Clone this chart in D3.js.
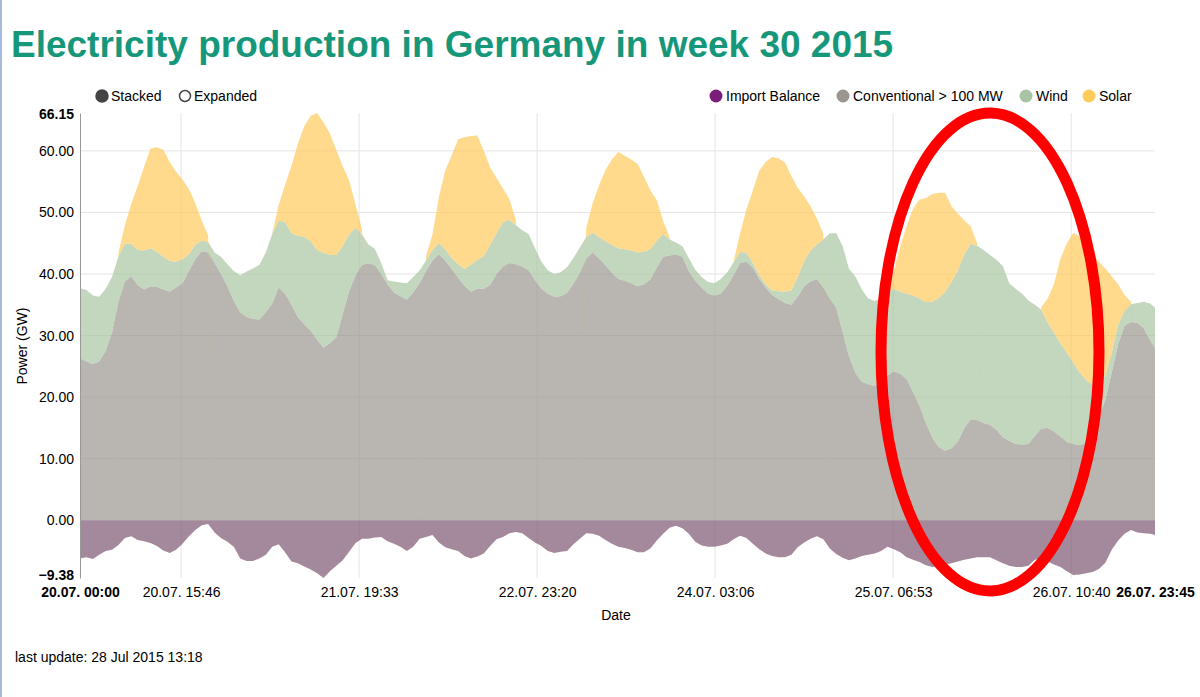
<!DOCTYPE html>
<html>
<head>
<meta charset="utf-8">
<script src="https://cdn.jsdelivr.net/npm/d3@7"></script>
<style>
  html, body { margin: 0; padding: 0; background: #fff; }
  svg { display: block; font-family: "Liberation Sans", Arial, sans-serif; }
</style>
</head>
<body>
<svg id="chart" width="1200" height="697"></svg>
<script>
// ---------- DATA (hourly, hours since 20.07.2015 00:00) ----------
const hours = d3.range(0, 168).concat([167.75]);

const conventional = [
  26.3,25.8,25.4,25.8,27.5,30.5,35.5,38.8,39.6,38.2,
  37.5,38.0,37.9,37.5,37.1,37.8,38.5,40.5,42.4,43.7,
  43.5,41.8,40.0,38.0,35.6,33.8,33.0,32.7,32.6,33.8,
  35.2,37.8,36.8,35.0,33.0,31.8,30.8,29.3,28.0,28.8,
  29.7,33.5,37.2,39.8,41.5,41.7,41.5,40.0,38.3,37.0,
  36.4,35.8,37.0,38.5,40.5,42.2,43.2,42.2,40.8,39.4,
  38.1,37.1,37.6,37.6,38.2,40.0,41.2,41.8,41.6,41.2,
  40.6,39.0,37.6,36.8,36.3,36.4,36.9,38.4,40.2,42.5,
  43.5,42.5,41.4,40.2,39.2,38.9,38.5,38.0,38.3,39.1,
  41.0,42.8,43.0,43.2,42.8,40.5,38.9,37.8,36.8,36.5,
  36.8,38.1,39.8,41.8,42.0,41.0,39.2,37.8,36.6,35.9,
  35.3,35.0,36.3,38.0,38.8,39.2,37.8,36.0,34.5,30.6,
  26.6,23.9,22.5,22.1,21.8,22.6,23.5,24.2,23.8,22.9,
  20.8,18.6,15.8,13.4,11.9,11.3,11.7,12.8,15.0,16.4,
  16.3,15.8,15.5,14.7,13.5,12.9,12.4,12.3,12.4,13.7,
  14.9,15.0,14.4,13.6,12.7,12.4,12.2,12.5,14.0,17.0,
  19.5,24.0,28.6,31.6,32.2,32.1,31.2,29.2,28.0
];

const wind = [
  11.4,11.6,11.1,10.5,10.1,9.0,7.4,6.1,5.3,5.7,
  6.3,6.2,5.7,5.3,5.0,4.2,3.9,2.7,2.4,1.7,
  1.7,1.7,2.8,3.6,4.9,6.0,7.4,8.2,8.9,9.7,
  11.3,10.9,11.6,11.6,13.2,14.2,14.5,14.6,15.4,14.3,
  13.4,11.0,9.2,7.7,4.9,3.1,2.6,1.8,0.7,1.8,
  2.2,2.7,2.5,2.1,1.7,1.7,1.8,1.8,1.8,2.2,
  2.7,4.4,4.7,5.3,6.5,6.6,7.2,7.0,6.3,5.9,
  5.9,5.2,4.4,3.8,3.7,3.9,4.2,4.2,4.1,3.5,
  3.2,3.5,3.9,4.5,5.0,5.1,5.3,5.5,5.3,4.9,
  4.4,3.7,2.6,1.9,1.7,2.1,1.8,1.7,1.9,2.0,
  2.4,2.2,2.1,1.8,1.4,0.8,0.6,0.5,0.7,1.3,
  1.8,2.3,3.2,4.1,5.0,5.6,7.8,10.6,12.1,14.0,
  14.2,15.7,15.0,13.9,13.8,13.4,13.5,13.4,13.3,13.9,
  15.7,17.4,19.6,22.1,24.2,25.8,27.0,27.8,28.2,28.5,
  28.3,28.1,27.6,27.6,27.8,25.6,25.2,24.5,23.3,21.3,
  19.3,17.1,16.0,15.1,14.5,13.2,11.8,10.3,8.0,5.3,
  4.0,3.2,3.2,2.4,2.9,3.2,4.3,6.0,6.5
];

const solar = [
  0,0,0,0,0,0,0.6,3.0,6.5,10.4,
  13.6,16.2,17.0,17.4,16.1,14.6,12.9,10.6,6.7,3.3,
  1.0,0,0,0,0,0,0,0,0,0,
  0.1,2.5,6.1,11.0,15.0,18.0,20.4,22.25,21.2,19.7,
  17.0,13.0,8.8,3.8,0.9,0,0,0,0,0,
  0,0,0,0,0.7,2.5,7.5,12.8,16.7,20.3,
  21.4,20.9,20.2,17.1,12.6,9.0,5.5,3.4,0.9,0,
  0,0,0,0,0,0,0,0,0,1.5,
  4.8,8.4,11.6,13.9,15.6,15.2,14.8,14.4,12.2,9.6,
  6.6,2.1,0.4,0,0,0,0,0,0,0,
  0,0,0.2,3.0,7.1,11.8,17.0,19.9,21.7,21.6,
  21.0,18.6,14.5,10.5,7.2,4.2,0.9,0,0,0,
  0,0,0,0,0,0,0.5,2.9,7.4,11.0,
  14.1,16.1,16.9,17.5,17.1,16.1,12.3,9.2,5.5,2.8,
  0.4,0,0,0,0,0,0,0,0,0,
  0.4,3.9,8.0,13.8,17.8,21.1,22.1,21.6,21.3,19.7,
  17.4,12.4,6.5,2.6,0.4,0,0,0,0
];

const importBalance = [
  -6.2,-6.0,-6.3,-5.6,-5.0,-4.8,-4.0,-2.9,-2.6,-3.2,
  -3.4,-3.7,-4.2,-4.9,-5.3,-4.8,-3.8,-2.6,-1.6,-0.8,
  -0.6,-2.0,-2.9,-3.5,-4.3,-6.2,-6.6,-6.6,-6.2,-5.6,
  -4.3,-3.9,-5.2,-6.7,-7.0,-7.5,-8.0,-8.6,-9.38,-8.3,
  -7.4,-6.5,-5.1,-3.7,-3.0,-3.0,-2.8,-2.7,-3.4,-3.8,
  -4.3,-5.0,-4.3,-3.0,-2.7,-2.4,-3.6,-4.4,-4.7,-5.0,
  -5.8,-6.2,-5.9,-5.4,-4.2,-3.1,-2.7,-2.1,-1.9,-2.1,
  -2.9,-3.6,-4.2,-5.0,-5.3,-5.1,-5.0,-3.9,-3.0,-2.1,
  -2.2,-2.5,-3.2,-3.8,-4.3,-4.5,-4.8,-5.2,-5.2,-4.6,
  -3.3,-2.2,-1.2,-0.9,-1.3,-2.2,-3.5,-4.1,-4.3,-4.3,
  -4.1,-3.8,-3.1,-2.5,-2.9,-3.8,-4.7,-5.4,-5.8,-6.0,
  -6.0,-5.6,-4.4,-3.6,-3.0,-2.6,-3.1,-4.6,-5.5,-6.1,
  -6.5,-6.2,-5.8,-5.6,-5.4,-5.0,-4.3,-4.7,-5.2,-6.0,
  -6.4,-6.8,-7.3,-7.6,-7.4,-7.2,-7.0,-6.7,-6.4,-6.2,
  -6.0,-6.0,-6.0,-6.5,-7.0,-7.4,-7.6,-7.6,-7.4,-6.4,
  -6.2,-6.7,-7.2,-7.6,-8.3,-8.9,-8.8,-8.6,-8.4,-7.9,
  -6.9,-4.8,-3.3,-2.2,-1.6,-2.0,-2.1,-2.2,-2.4
];

const seriesNames = ["Import Balance", "Conventional > 100 MW", "Wind", "Solar"];
const seriesKeys = ["importBalance", "conventional", "wind", "solar"];
const seriesColors = ["#7b1e7a", "#9b9590", "#a9c4a2", "#ffcb5c"];

const xTickHours = [0, 15.77, 43.55, 71.33, 99.1, 126.88, 154.67, 167.75];
const xTickLabels = ["20.07. 00:00","20.07. 15:46","21.07. 19:33","22.07. 23:20","24.07. 03:06","25.07. 06:53","26.07. 10:40","26.07. 23:45"];
const yTickValues = [-9.38, 0, 10, 20, 30, 40, 50, 60, 66.15];

// ---------- BUILD ----------
const rows = hours.map((h, i) => ({
  h: h,
  importBalance: importBalance[i],
  conventional: conventional[i],
  wind: wind[i],
  solar: solar[i]
}));

const svg = d3.select("#chart");
const L = 80, R = 1155, T = 113, B = 578;
const FS = 14;

const x = d3.scaleLinear().domain([0, 167.75]).range([L, R]);
const y = d3.scaleLinear().domain([-9.38, 66.15]).range([B, T]);

// left page border
svg.append("rect").attr("x", 0).attr("y", 0).attr("width", 2).attr("height", 697).attr("fill", "#a7b9dc");

// title
svg.append("text").attr("x", 11).attr("y", 57)
  .attr("font-size", 37).attr("font-weight", "bold").attr("fill", "#17977a")
  .text("Electricity production in Germany in week 30 2015");

// grid
const grid = svg.append("g");
grid.selectAll("line.h").data(yTickValues.filter(v => v >= 0 && v <= 60)).join("line")
  .attr("x1", L).attr("x2", R).attr("y1", d => y(d)).attr("y2", d => y(d))
  .attr("stroke", "#e4e4e4").attr("stroke-width", 1);
grid.selectAll("line.v").data(xTickHours.slice(1, -1)).join("line")
  .attr("x1", d => x(d)).attr("x2", d => x(d)).attr("y1", T).attr("y2", B)
  .attr("stroke", "#e4e4e4").attr("stroke-width", 1);

// stacked areas
const stack = d3.stack().keys(seriesKeys).offset(d3.stackOffsetDiverging);
const layers = stack(rows);
const area = d3.area()
  .x(d => x(d.data.h))
  .y0(d => y(d[0]))
  .y1(d => y(d[1]));
const importArea = "#7d5670";
svg.append("g").selectAll("path").data(layers).join("path")
  .attr("d", area)
  .attr("fill", (d, i) => i === 0 ? importArea : seriesColors[i])
  .attr("fill-opacity", 0.7);

// y axis
const yAxis = d3.axisLeft(y).tickValues(yTickValues).tickFormat(d3.format(".2f")).tickSize(0).tickPadding(6);
const gy = svg.append("g").attr("transform", `translate(${L},0)`).call(yAxis);
gy.select(".domain").attr("stroke", "#999");
gy.selectAll("text").attr("font-size", FS).attr("fill", "#000")
  .attr("font-family", "Liberation Sans, Arial, sans-serif")
  .attr("font-weight", d => (d === 66.15 || d === -9.38) ? "bold" : "normal")
  .attr("dy", d => d === -9.38 ? "0.12em" : (d === 66.15 ? "0.4em" : "0.32em"));

// x axis
const xAxis = d3.axisBottom(x).tickValues(xTickHours).tickFormat((d, i) => xTickLabels[i]).tickSize(0).tickPadding(9);
const gx = svg.append("g").attr("transform", `translate(0,${B})`).call(xAxis);
gx.select(".domain").remove();
gx.selectAll("text").attr("font-size", FS).attr("fill", "#000")
  .attr("font-family", "Liberation Sans, Arial, sans-serif")
  .attr("font-weight", (d, i) => (i === 0 || i === xTickLabels.length - 1) ? "bold" : "normal");

// axis titles
svg.append("text").attr("x", 616).attr("y", 620).attr("text-anchor", "middle")
  .attr("font-size", FS).text("Date");
svg.append("text").attr("transform", "translate(27,346) rotate(-90)").attr("text-anchor", "middle")
  .attr("font-size", FS).text("Power (GW)");

// left legend (Stacked / Expanded)
const lg = svg.append("g");
lg.append("circle").attr("cx", 102).attr("cy", 96).attr("r", 6).attr("fill", "#444").attr("stroke", "#444").attr("stroke-width", 1.5);
lg.append("text").attr("x", 111).attr("y", 101).attr("font-size", FS).text("Stacked");
lg.append("circle").attr("cx", 185).attr("cy", 96).attr("r", 5.5).attr("fill", "#fff").attr("stroke", "#444").attr("stroke-width", 1.5);
lg.append("text").attr("x", 194).attr("y", 101).attr("font-size", FS).text("Expanded");

// series legend
const legendX = [716, 843, 1026, 1089];
const rg = svg.append("g");
seriesNames.forEach((name, i) => {
  rg.append("circle").attr("cx", legendX[i]).attr("cy", 96).attr("r", 6.5).attr("fill", seriesColors[i]);
  rg.append("text").attr("x", legendX[i] + 10).attr("y", 101).attr("font-size", FS).text(name);
});

// last update
svg.append("text").attr("x", 15).attr("y", 662).attr("font-size", FS).text("last update: 28 Jul 2015 13:18");

// red annotation ellipse
svg.append("ellipse").attr("cx", 990).attr("cy", 352).attr("rx", 109).attr("ry", 239)
  .attr("fill", "none").attr("stroke", "#ff0000").attr("stroke-width", 11);
</script>
</body>
</html>
